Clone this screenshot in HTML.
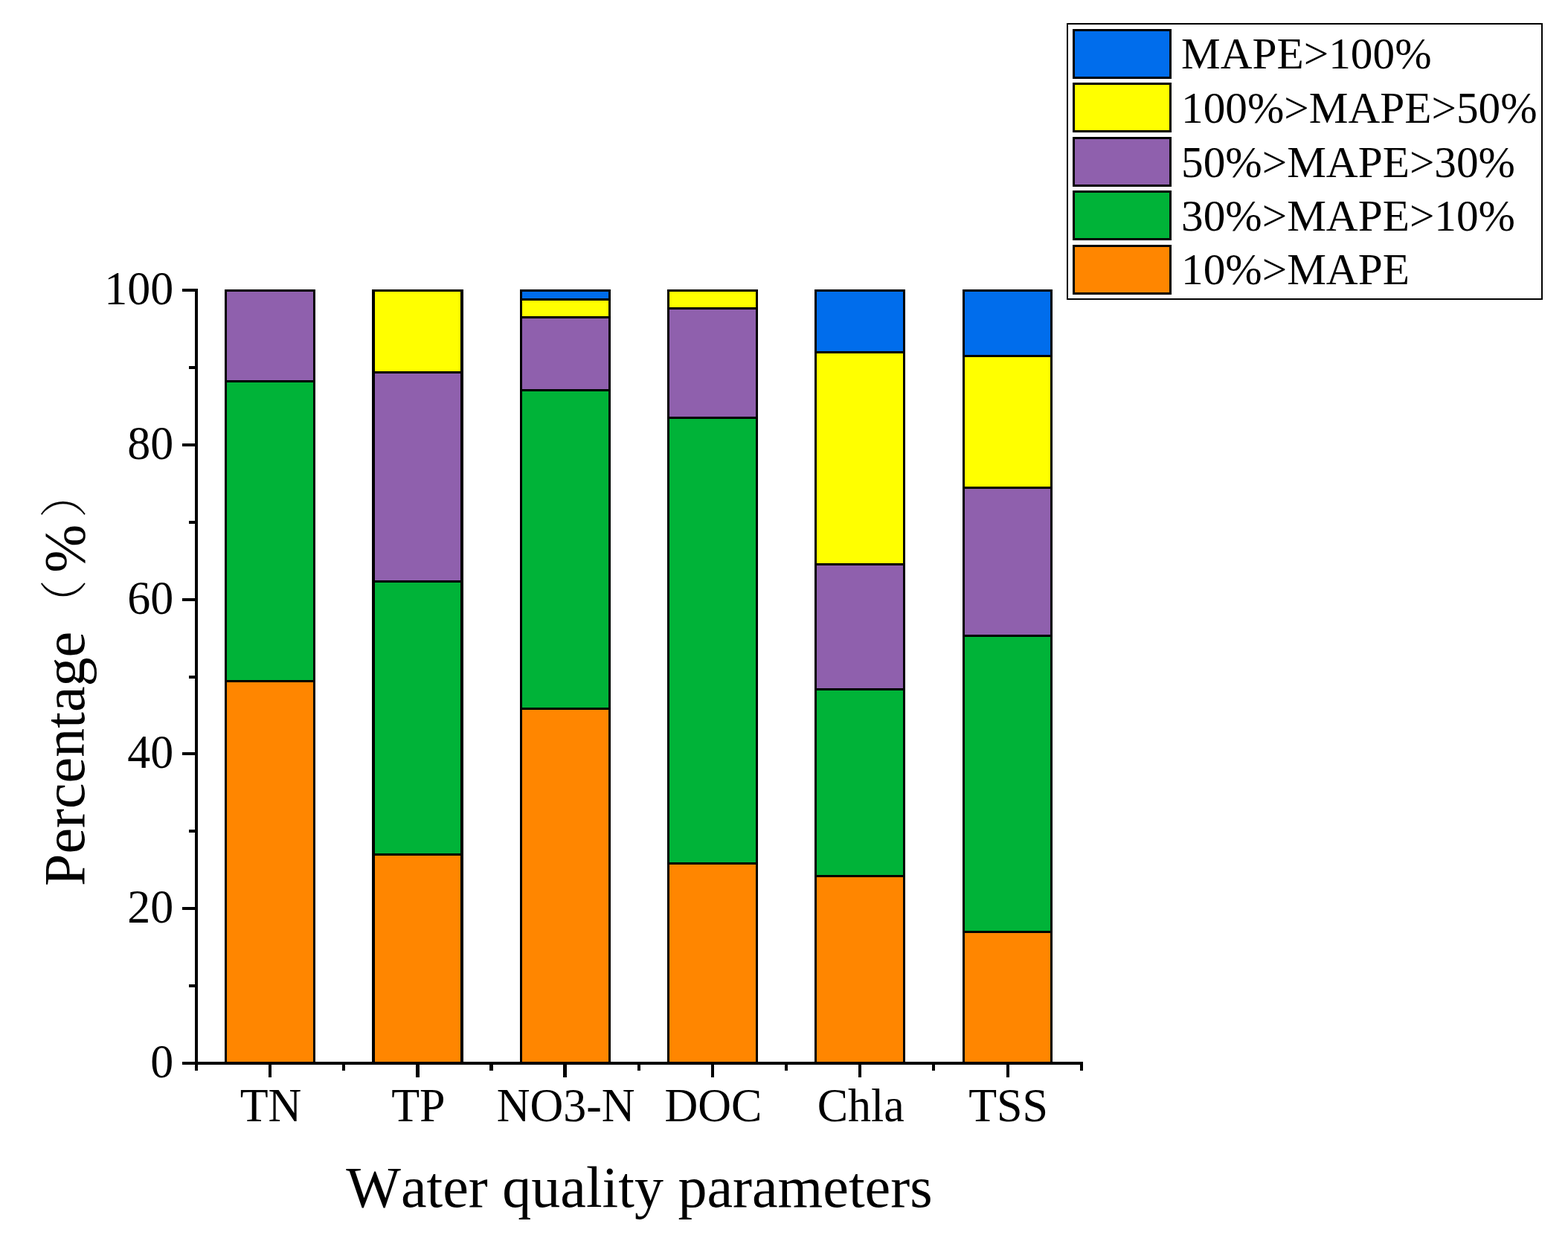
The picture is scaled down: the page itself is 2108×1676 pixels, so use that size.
<!DOCTYPE html>
<html lang="en"><head><meta charset="utf-8"><title>MAPE percentage by water quality parameter</title>
<style>
html,body{margin:0;padding:0;background:#fff;}
body{width:2108px;height:1676px;overflow:hidden;}
svg{display:block;}
text{font-family:"Liberation Serif","Noto Serif CJK SC",serif;fill:#000;font-kerning:none;}
.tick{font-size:62px;}
.title{font-size:78px;}
.leg{font-size:59.3px;}
.cjk{font-weight:200;font-size:64px;}
</style></head><body>
<svg width="2108" height="1676" viewBox="0 0 2108 1676">
<rect x="0" y="0" width="2108" height="1676" fill="#fff"/>
<g shape-rendering="crispEdges">
<rect x="302" y="389" width="122" height="1040" fill="#000"/>
<rect x="305" y="917" width="116" height="512" fill="#FF8600"/>
<rect x="305" y="514" width="116" height="400" fill="#00B338"/>
<rect x="305" y="392" width="116" height="119" fill="#8F60AD"/>
<rect x="500" y="389" width="123" height="1040" fill="#000"/>
<rect x="504" y="1150" width="115" height="279" fill="#FF8600"/>
<rect x="504" y="783" width="115" height="364" fill="#00B338"/>
<rect x="504" y="502" width="115" height="278" fill="#8F60AD"/>
<rect x="504" y="392" width="115" height="107" fill="#FFFF00"/>
<rect x="699" y="389" width="122" height="1040" fill="#000"/>
<rect x="702" y="954" width="116" height="475" fill="#FF8600"/>
<rect x="702" y="526" width="116" height="425" fill="#00B338"/>
<rect x="702" y="428" width="116" height="95" fill="#8F60AD"/>
<rect x="702" y="404" width="116" height="21" fill="#FFFF00"/>
<rect x="702" y="392" width="116" height="9" fill="#006DEC"/>
<rect x="897" y="389" width="122" height="1040" fill="#000"/>
<rect x="900" y="1162" width="116" height="267" fill="#FF8600"/>
<rect x="900" y="563" width="116" height="596" fill="#00B338"/>
<rect x="900" y="416" width="116" height="144" fill="#8F60AD"/>
<rect x="900" y="392" width="116" height="21" fill="#FFFF00"/>
<rect x="1095" y="389" width="122" height="1040" fill="#000"/>
<rect x="1098" y="1179" width="116" height="250" fill="#FF8600"/>
<rect x="1098" y="928" width="116" height="248" fill="#00B338"/>
<rect x="1098" y="760" width="116" height="165" fill="#8F60AD"/>
<rect x="1098" y="475" width="116" height="282" fill="#FFFF00"/>
<rect x="1098" y="392" width="116" height="80" fill="#006DEC"/>
<rect x="1294" y="389" width="121" height="1040" fill="#000"/>
<rect x="1297" y="1254" width="115" height="175" fill="#FF8600"/>
<rect x="1297" y="856" width="115" height="395" fill="#00B338"/>
<rect x="1297" y="657" width="115" height="196" fill="#8F60AD"/>
<rect x="1297" y="480" width="115" height="174" fill="#FFFF00"/>
<rect x="1297" y="392" width="115" height="85" fill="#006DEC"/>
<rect x="262" y="388" width="4" height="1051" fill="#000"/>
<rect x="245" y="1427" width="1211" height="4" fill="#000"/>
<rect x="245" y="1427" width="19" height="4" fill="#000"/>
<rect x="254" y="1323" width="10" height="4" fill="#000"/>
<rect x="245" y="1219" width="19" height="4" fill="#000"/>
<rect x="254" y="1115" width="10" height="4" fill="#000"/>
<rect x="245" y="1011" width="19" height="4" fill="#000"/>
<rect x="254" y="908" width="10" height="4" fill="#000"/>
<rect x="245" y="804" width="19" height="4" fill="#000"/>
<rect x="254" y="700" width="10" height="4" fill="#000"/>
<rect x="245" y="596" width="19" height="4" fill="#000"/>
<rect x="254" y="492" width="10" height="4" fill="#000"/>
<rect x="245" y="388" width="19" height="4" fill="#000"/>
<rect x="262" y="1429" width="4" height="10" fill="#000"/>
<rect x="361" y="1429" width="4" height="19" fill="#000"/>
<rect x="460" y="1429" width="4" height="10" fill="#000"/>
<rect x="559" y="1429" width="5" height="19" fill="#000"/>
<rect x="658" y="1429" width="5" height="10" fill="#000"/>
<rect x="757" y="1429" width="5" height="19" fill="#000"/>
<rect x="857" y="1429" width="4" height="10" fill="#000"/>
<rect x="956" y="1429" width="4" height="19" fill="#000"/>
<rect x="1055" y="1429" width="4" height="10" fill="#000"/>
<rect x="1154" y="1429" width="4" height="19" fill="#000"/>
<rect x="1253" y="1429" width="4" height="10" fill="#000"/>
<rect x="1353" y="1429" width="4" height="19" fill="#000"/>
<rect x="1452" y="1429" width="4" height="10" fill="#000"/>
<rect x="1435" y="32" width="638" height="370" fill="#fff" stroke="#000" stroke-width="2"/>
<rect x="1442" y="39" width="133" height="67" fill="#000"/>
<rect x="1445" y="42" width="127" height="61" fill="#006DEC"/>
<rect x="1442" y="111" width="133" height="67" fill="#000"/>
<rect x="1445" y="114" width="127" height="61" fill="#FFFF00"/>
<rect x="1442" y="184" width="133" height="67" fill="#000"/>
<rect x="1445" y="187" width="127" height="61" fill="#8F60AD"/>
<rect x="1442" y="256" width="133" height="67" fill="#000"/>
<rect x="1445" y="259" width="127" height="61" fill="#00B338"/>
<rect x="1442" y="329" width="133" height="67" fill="#000"/>
<rect x="1445" y="332" width="127" height="61" fill="#FF8600"/>
</g>
<text class="tick" transform="translate(233.3 1448.0) scale(1 1.035)" text-anchor="end">0</text>
<text class="tick" transform="translate(233.3 1240.2) scale(1 1.035)" text-anchor="end">20</text>
<text class="tick" transform="translate(233.3 1032.4) scale(1 1.035)" text-anchor="end">40</text>
<text class="tick" transform="translate(233.3 824.6) scale(1 1.035)" text-anchor="end">60</text>
<text class="tick" transform="translate(233.3 616.8) scale(1 1.035)" text-anchor="end">80</text>
<text class="tick" transform="translate(233.3 409.0) scale(1 1.035)" text-anchor="end">100</text>
<text class="tick" transform="translate(364.0 1507) scale(1 1.02)" text-anchor="middle">TN</text>
<text class="tick" transform="translate(562.3 1507) scale(1 1.02)" text-anchor="middle">TP</text>
<text class="tick" transform="translate(760.6 1507) scale(1 1.02)" text-anchor="middle">NO3-N</text>
<text class="tick" transform="translate(959.0 1507) scale(1 1.02)" text-anchor="middle">DOC</text>
<text class="tick" transform="translate(1157.3 1507) scale(1 1.02)" text-anchor="middle">Chla</text>
<text class="tick" transform="translate(1355.6 1507) scale(1 1.02)" text-anchor="middle">TSS</text>
<text class="title" x="859.4" y="1621.5" text-anchor="middle">Water quality parameters</text>
<text class="title" transform="translate(112.5 909.5) rotate(-90)" x="-281.5" y="0">Percentage<tspan class="cjk" dx="5.5" dy="-3.3" fill="#000">（</tspan><tspan dx="9.5" dy="3.3" fill="#000">%</tspan><tspan class="cjk" dx="9" dy="-3.3" fill="#000">）</tspan></text>
<text class="leg" x="1588" y="92.0">MAPE&gt;100%</text>
<text class="leg" x="1588" y="165.0">100%&gt;MAPE&gt;50%</text>
<text class="leg" x="1588" y="237.5">50%&gt;MAPE&gt;30%</text>
<text class="leg" x="1588" y="310.0">30%&gt;MAPE&gt;10%</text>
<text class="leg" x="1588" y="382.0">10%&gt;MAPE</text>
</svg>
</body></html>
